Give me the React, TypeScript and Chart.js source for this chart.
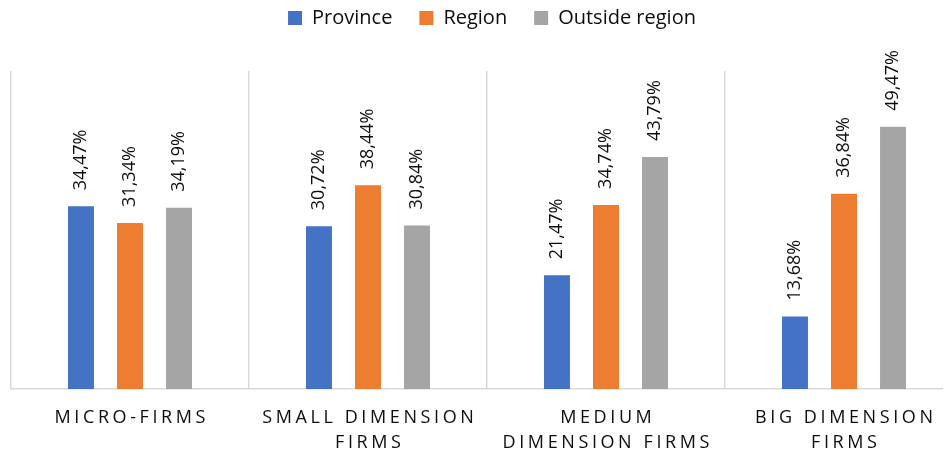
import React, { useEffect, useRef } from 'react';
import { Chart, registerables } from 'chart.js';

Chart.register(...registerables);

// Category labels (multi-line) and series values in percent
const categories: string[][] = [
  ['MICRO-FIRMS'],
  ['SMALL DIMENSION', 'FIRMS'],
  ['MEDIUM', 'DIMENSION FIRMS'],
  ['BIG DIMENSION', 'FIRMS'],
];
const seriesNames = ['Province', 'Region', 'Outside region'];
const province = [34.47, 30.72, 21.47, 13.68];
const region = [31.34, 38.44, 34.74, 36.84];
const outsideRegion = [34.19, 30.84, 43.79, 49.47];

const seriesColors = ['#4472C4', '#ED7D31', '#A5A5A5'];
const FONT = '"Open Sans", "Noto Sans", sans-serif';
const TEXT = '#0d0d0d';
const GRID = '#d9d9d9';
const TICK_SPACING = 3.6;

const formatPct = (v: number) => v.toFixed(2).replace('.', ',') + '%';

// Rotated value labels above each bar
const valueLabels = {
  id: 'valueLabels',
  afterDatasetsDraw(chart: any) {
    const ctx = chart.ctx as CanvasRenderingContext2D;
    ctx.save();
    ctx.font = `18px ${FONT}`;
    ctx.fillStyle = TEXT;
    ctx.textAlign = 'left';
    ctx.textBaseline = 'middle';
    chart.data.datasets.forEach((ds: any, di: number) => {
      const meta = chart.getDatasetMeta(di);
      meta.data.forEach((bar: any, i: number) => {
        ctx.save();
        ctx.translate(bar.x, bar.y - 16);
        ctx.rotate(-Math.PI / 2);
        ctx.fillText(formatPct(ds.data[i]), 0, 0);
        ctx.restore();
      });
    });
    ctx.restore();
  },
};

// Wide letter spacing for the category axis labels
const spacedTicks = {
  id: 'spacedTicks',
  beforeDraw(chart: any) {
    const xs = chart.scales.x;
    if (!xs || xs.__spaced) return;
    const orig = xs.drawLabels;
    xs.drawLabels = function (area: any) {
      const ctx = chart.ctx as any;
      ctx.save();
      ctx.letterSpacing = `${TICK_SPACING}px`;
      ctx.translate(TICK_SPACING / 2, 0);
      orig.call(this, area);
      ctx.restore();
    };
    xs.__spaced = true;
  },
};

// Pull the legend row up towards the top edge and centre it on the canvas
const legendLift = {
  id: 'legendLift',
  afterLayout(chart: any) {
    const lg = chart.legend;
    if (lg) {
      lg.top -= 33;
      lg.bottom -= 33;
      lg.left += 5;
      lg.right += 5;
    }
  },
};

export default function App() {
  const canvasRef = useRef<HTMLCanvasElement>(null);

  useEffect(() => {
    document.body.style.overflow = 'hidden';
    const canvas = canvasRef.current;
    if (!canvas) return;
    const values = [province, region, outsideRegion];
    const chart = new Chart(canvas, {
      type: 'bar',
      data: {
        labels: categories,
        datasets: seriesNames.map((name, i) => ({
          label: name,
          data: values[i],
          backgroundColor: seriesColors[i],
          borderWidth: 0,
          categoryPercentage: 0.618,
          barPercentage: 0.53,
        })),
      },
      options: {
        responsive: false,
        animation: false,
        layout: { padding: { top: 6, left: 3, right: 13, bottom: 0 } },
        plugins: {
          legend: {
            position: 'top',
            labels: {
              boxWidth: 14,
              boxHeight: 14,
              padding: 27,
              color: TEXT,
              font: { family: FONT, size: 20 },
            },
          },
          tooltip: { enabled: false },
        },
        scales: {
          x: {
            offset: true,
            grid: {
              offset: true,
              color: GRID,
              lineWidth: 1.5,
              drawTicks: false,
            },
            border: { color: GRID, width: 1.5 },
            ticks: {
              color: TEXT,
              font: { family: FONT, size: 18, lineHeight: 25 / 18 },
              padding: 16,
              maxRotation: 0,
              autoSkip: false,
            },
          },
          y: {
            display: false,
            min: 0,
            max: 60,
          },
        },
      },
      plugins: [valueLabels, spacedTicks, legendLift],
    });
    return () => chart.destroy();
  }, []);

  return (
    <div style={{ width: 943, height: 463, overflow: 'hidden' }}>
      <canvas ref={canvasRef} width={968} height={463} style={{ display: 'block' }} />
    </div>
  );
}
